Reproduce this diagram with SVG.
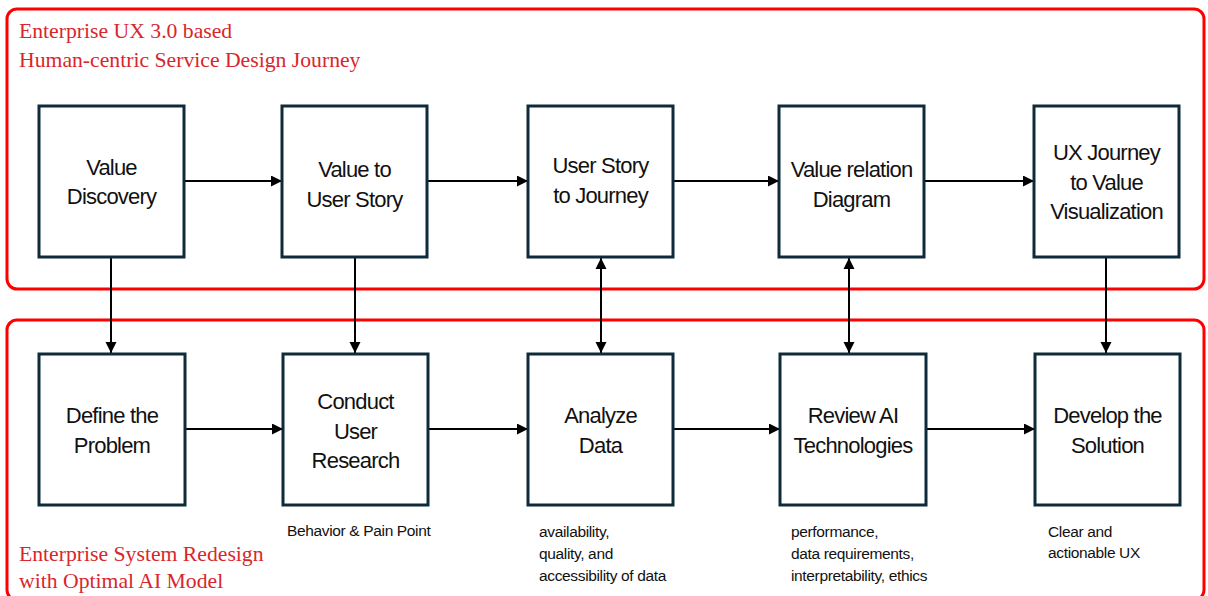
<svg xmlns="http://www.w3.org/2000/svg" width="1208" height="596" viewBox="0 0 1208 596">
<style>
.frame{fill:none;stroke:#ff0000;stroke-width:3}
.title{font-family:"Liberation Serif",serif;font-size:21.7px;fill:#d9262c}
.box{fill:#fff;stroke:#0e2a3b;stroke-width:3}
.lbl{font-family:"Liberation Sans",Arial,sans-serif;font-size:22px;letter-spacing:-0.8px;fill:#111;text-anchor:middle}
.note{font-family:"Liberation Sans",Arial,sans-serif;font-size:15.5px;letter-spacing:-0.35px;fill:#111}
.con{stroke:#000;stroke-width:2;fill:none}
</style>
<defs>
<marker id="ah" markerUnits="userSpaceOnUse" markerWidth="12" markerHeight="12" refX="11" refY="5.5" orient="auto">
<path d="M0,0 L11,5.5 L0,11 Z" fill="#000"/>
</marker>
<marker id="as" markerUnits="userSpaceOnUse" markerWidth="12" markerHeight="12" refX="0" refY="5.5" orient="auto">
<path d="M11,0 L0,5.5 L11,11 Z" fill="#000"/>
</marker>
</defs>
<rect class="frame" x="7" y="9" width="1197" height="280" rx="10"/>
<rect class="frame" x="7" y="320" width="1197" height="280" rx="10"/>
<text class="title" x="19" y="38">Enterprise UX 3.0 based</text>
<text class="title" x="19" y="67">Human-centric Service Design Journey</text>
<text class="title" x="19" y="561">Enterprise System Redesign</text>
<text class="title" x="19" y="588">with Optimal AI Model</text>

<g id="connectors">
<line class="con" x1="185" y1="181" x2="282" y2="181" marker-end="url(#ah)"/>
<line class="con" x1="428" y1="181" x2="528" y2="181" marker-end="url(#ah)"/>
<line class="con" x1="673" y1="181" x2="779" y2="181" marker-end="url(#ah)"/>
<line class="con" x1="924" y1="181" x2="1034" y2="181" marker-end="url(#ah)"/>
<line class="con" x1="185" y1="429" x2="283" y2="429" marker-end="url(#ah)"/>
<line class="con" x1="428" y1="429" x2="528" y2="429" marker-end="url(#ah)"/>
<line class="con" x1="673" y1="429" x2="780" y2="429" marker-end="url(#ah)"/>
<line class="con" x1="926" y1="429" x2="1035" y2="429" marker-end="url(#ah)"/>
<line class="con" x1="111" y1="258" x2="111" y2="353" marker-end="url(#ah)"/>
<line class="con" x1="355" y1="258" x2="355" y2="353" marker-end="url(#ah)"/>
<line class="con" x1="601" y1="258" x2="601" y2="353" marker-start="url(#as)" marker-end="url(#ah)"/>
<line class="con" x1="849" y1="258" x2="849" y2="353" marker-start="url(#as)" marker-end="url(#ah)"/>
<line class="con" x1="1106" y1="258" x2="1106" y2="353" marker-end="url(#ah)"/>
</g>

<g id="n1"><rect class="box" x="39" y="106" width="145" height="151"/><text class="lbl" x="111.5" y="175">Value</text><text class="lbl" x="111.5" y="204">Discovery</text></g>
<g id="n2"><rect class="box" x="282" y="106" width="145" height="151"/><text class="lbl" x="354.5" y="177">Value to</text><text class="lbl" x="354.5" y="207">User Story</text></g>
<g id="n3"><rect class="box" x="528" y="106" width="145" height="151"/><text class="lbl" x="600.5" y="173">User Story</text><text class="lbl" x="600.5" y="203">to Journey</text></g>
<g id="n4"><rect class="box" x="779" y="106" width="145" height="151"/><text class="lbl" x="851.5" y="177">Value relation</text><text class="lbl" x="851.5" y="207">Diagram</text></g>
<g id="n5"><rect class="box" x="1034" y="106" width="145" height="151"/><text class="lbl" x="1106.5" y="160">UX Journey</text><text class="lbl" x="1106.5" y="190">to Value</text><text class="lbl" x="1106.5" y="219">Visualization</text></g>

<g id="m1"><rect class="box" x="39" y="354" width="146" height="151"/><text class="lbl" x="112" y="423">Define the</text><text class="lbl" x="112" y="453">Problem</text></g>
<g id="m2"><rect class="box" x="283" y="354" width="145" height="151"/><text class="lbl" x="355.5" y="409">Conduct</text><text class="lbl" x="355.5" y="439">User</text><text class="lbl" x="355.5" y="468">Research</text></g>
<g id="m3"><rect class="box" x="528" y="354" width="145" height="151"/><text class="lbl" x="600.5" y="423">Analyze</text><text class="lbl" x="600.5" y="453">Data</text></g>
<g id="m4"><rect class="box" x="780" y="354" width="146" height="151"/><text class="lbl" x="853" y="423">Review AI</text><text class="lbl" x="853" y="453">Technologies</text></g>
<g id="m5"><rect class="box" x="1035" y="354" width="145" height="151"/><text class="lbl" x="1107.5" y="423">Develop the</text><text class="lbl" x="1107.5" y="453">Solution</text></g>

<g id="notes">
<text class="note" x="287" y="536">Behavior &amp; Pain Point</text>
<text class="note" x="539" y="537">availability,</text>
<text class="note" x="539" y="559">quality, and</text>
<text class="note" x="539" y="581">accessibility of data</text>
<text class="note" x="791" y="537">performance,</text>
<text class="note" x="791" y="559">data requirements,</text>
<text class="note" x="791" y="581">interpretability, ethics</text>
<text class="note" x="1048" y="537">Clear and</text>
<text class="note" x="1048" y="558">actionable UX</text>
</g>
</svg>
